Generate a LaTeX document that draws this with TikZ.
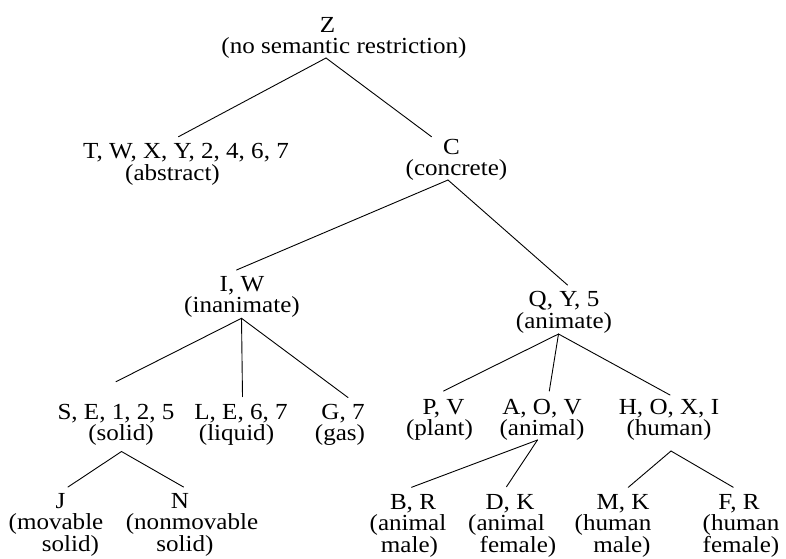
\documentclass[tikz,border=0pt]{standalone}
\usepackage{fontspec}
\setmainfont[FakeStretch=1.09]{Liberation Serif}
\usetikzlibrary{calc}
\newcommand\mv[1]{\hspace*{#1}}
\newcommand\lbltext[1]{\lineskiplimit=-100pt\vtop{\halign{\hfil##\hfil\cr#1\crcr}}}
\tikzset{
  lbl/.style={inner sep=0pt, outer sep=0pt, anchor=base, font=\fontsize{23pt}{21.5pt}\selectfont},
  edge/.style={line width=0.9pt, line cap=round}
}
\begin{document}
\begin{tikzpicture}[x=1pt,y=-1pt]
\useasboundingbox (0,0) rectangle (786,558);
% nodes (positioned at first-line baselines)
\node[lbl] (z)  at (344,32)    {\lbltext{\mv{-33pt}Z\cr (no semantic restriction)}};
\node[lbl] (t)  at (186,158.5) {\lbltext{T, W, X, Y, 2, 4, 6, 7\cr \mv{-27pt}(abstract)}};
\node[lbl] (c)  at (456.5,154.3) {\lbltext{\mv{-10pt}C\cr (concrete)}};
\node[lbl] (iw) at (242,291)   {\lbltext{I, W\cr (inanimate)}};
\node[lbl] (q)  at (564,306.7) {\lbltext{Q, Y, 5\cr (animate)}};
\node[lbl] (s)  at (116,419.3) {\lbltext{S, E, 1, 2, 5\cr \mv{10pt}(solid)}};
\node[lbl] (l)  at (241,419.3) {\lbltext{L, E, 6, 7\cr \mv{-9pt}(liquid)}};
\node[lbl] (g)  at (343,419.3) {\lbltext{G, 7\cr \mv{-6pt}(gas)}};
\node[lbl] (p)  at (443.5,414) {\lbltext{P, V\cr \mv{-8pt}(plant)}};
\node[lbl] (a)  at (542,414)   {\lbltext{A, O, V\cr (animal)}};
\node[lbl] (h)  at (669,414)   {\lbltext{H, O, X, I\cr (human)}};
\node[lbl] (j)  at (56,508.3)  {\lbltext{\mv{9pt}J\cr (movable\cr \mv{29pt}solid)}};
\node[lbl] (n)  at (192,508.3) {\lbltext{\mv{-24pt}N\cr (nonmovable\cr \mv{-14pt}solid)}};
\node[lbl] (br) at (408,509)   {\lbltext{\mv{10pt}B, R\cr (animal\cr \mv{3pt}male)}};
\node[lbl] (dk) at (518,509)   {\lbltext{\mv{-16pt}D, K\cr \mv{-23pt}(animal\cr female)}};
\node[lbl] (mk) at (613,509)   {\lbltext{\mv{20pt}M, K\cr (human\cr \mv{18pt}male)}};
\node[lbl] (fr) at (741,509)   {\lbltext{\mv{-4pt}F, R\cr (human\cr female)}};
% connectors
\draw[edge] ($(z.base)+(-18,26)$) -- ($(t.base)+(-7.5,-21.8)$);
\draw[edge] ($(z.base)+(-18,26)$) -- ($(c.base)+(-25,-17.6)$);
\draw[edge] ($(c.base)+(-8.5,25.7)$) -- ($(iw.base)+(-5.5,-21)$);
\draw[edge] ($(c.base)+(-8.5,25.7)$) -- ($(q.base)+(3.5,-21.7)$);
\draw[edge] ($(iw.base)+(-0.5,27.3)$) -- ($(s.base)+(0,-37.6)$);
\draw[edge] ($(iw.base)+(-0.5,27.3)$) -- ($(l.base)+(1.5,-22.6)$);
\draw[edge] ($(iw.base)+(-0.5,27.3)$) -- ($(g.base)+(5,-21.8)$);
\draw[edge] ($(q.base)+(-5.5,27.3)$) -- ($(p.base)+(0,-23)$);
\draw[edge] ($(q.base)+(-5.5,27.3)$) -- ($(a.base)+(7.3,-23)$);
\draw[edge] ($(q.base)+(-5.5,27.3)$) -- ($(h.base)+(1,-19)$);
\draw[edge] ($(s.base)+(5.5,32.2)$) -- ($(j.base)+(12,-21.3)$);
\draw[edge] ($(s.base)+(5.5,32.2)$) -- ($(n.base)+(-8.5,-21.3)$);
\draw[edge] ($(a.base)+(-4.5,26)$) -- ($(br.base)+(3.5,-21.7)$);
\draw[edge] ($(a.base)+(-4.5,26)$) -- ($(dk.base)+(-11.5,-22.3)$);
\draw[edge] ($(h.base)+(2,37)$) -- ($(mk.base)+(15.3,-21.7)$);
\draw[edge] ($(h.base)+(2,37)$) -- ($(fr.base)+(-7.7,-21.7)$);
\end{tikzpicture}
\end{document}
